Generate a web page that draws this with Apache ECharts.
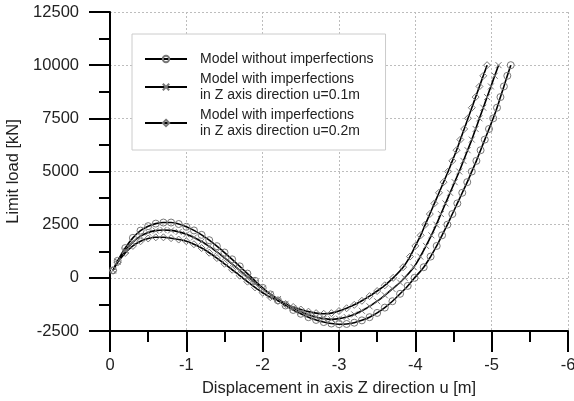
<!DOCTYPE html>
<html><head><meta charset="utf-8">
<script src="https://cdn.jsdelivr.net/npm/echarts@6/dist/echarts.min.js"></script>
<style>html,body{margin:0;padding:0;background:#fff;overflow:hidden;width:574px;height:401px}#c{position:absolute;left:0;top:0;width:574px;height:401px}</style>
</head><body><div id="c"></div>
<script>
// Series names (legend)
const seriesNames = [
  'Model without imperfections',
  'Model with imperfections\nin Z axis direction u=0.1m',
  'Model with imperfections\nin Z axis direction u=0.2m'
];
// Model without imperfections
const xNoImp = [-0.04,-0.1,-0.2,-0.3,-0.4,-0.5,-0.6,-0.7,-0.8,-0.9,-1.0,-1.1,-1.2,-1.3,-1.4,-1.5,-1.6,-1.7,-1.8,-1.9,-2.0,-2.1,-2.2,-2.3,-2.4,-2.5,-2.6,-2.7,-2.8,-2.9,-3.0,-3.1,-3.2,-3.3,-3.4,-3.5,-3.6,-3.7,-3.8,-3.9,
  -3.99,-4.11,-4.2,-4.28,-4.35,-4.42,-4.485,-4.55,-4.615,-4.68,-4.74,-4.8,-4.855,-4.91,-4.965,-5.02,-5.07,-5.115,-5.16,-5.205,-5.25];
const yNoImp = [350,800,1400,1880,2220,2430,2550,2600,2600,2530,2400,2230,2020,1770,1490,1190,870,540,200,-140,-470,-780,-1060,-1300,-1510,-1690,-1850,-1980,-2080,-2150,-2180,-2170,-2110,-2000,-1850,-1650,-1400,-1100,-750,-380,
  0,500,1000,1500,2000,2500,3000,3500,4000,4500,5000,5500,6000,6500,7000,7500,8000,8500,9000,9500,10000];
// Model with imperfections u=0.1m
const xImp01 = [-0.04,-0.1,-0.2,-0.3,-0.4,-0.5,-0.6,-0.7,-0.8,-0.9,-1.0,-1.1,-1.2,-1.3,-1.4,-1.5,-1.6,-1.7,-1.8,-1.9,-2.0,-2.1,-2.2,-2.3,-2.4,-2.5,-2.6,-2.7,-2.8,-2.9,-3.0,-3.1,-3.2,-3.3,-3.4,-3.5,-3.6,-3.7,-3.8,
  -3.86,-3.98,-4.065,-4.14,-4.21,-4.275,-4.335,-4.395,-4.455,-4.515,-4.575,-4.63,-4.685,-4.74,-4.79,-4.84,-4.89,-4.94,-4.99,-5.04,-5.09];
const yImp01 = [350,760,1280,1680,1960,2130,2220,2250,2230,2160,2050,1900,1710,1480,1220,940,650,350,60,-230,-510,-760,-1000,-1220,-1420,-1590,-1740,-1850,-1920,-1950,-1920,-1840,-1720,-1550,-1340,-1100,-820,-520,-220,
  0,500,1000,1500,2000,2500,3000,3500,4000,4500,5000,5500,6000,6500,7000,7500,8000,8500,9000,9500,10000];
// Model with imperfections u=0.2m
const xImp02 = [-0.04,-0.1,-0.2,-0.3,-0.4,-0.5,-0.6,-0.7,-0.8,-0.9,-1.0,-1.1,-1.2,-1.3,-1.4,-1.5,-1.6,-1.7,-1.8,-1.9,-2.0,-2.1,-2.2,-2.3,-2.4,-2.5,-2.6,-2.7,-2.8,-2.9,-3.0,-3.1,-3.2,-3.3,-3.4,-3.5,-3.6,
  -3.71,-3.84,-3.93,-4.0,-4.07,-4.13,-4.19,-4.25,-4.31,-4.37,-4.43,-4.485,-4.54,-4.59,-4.64,-4.69,-4.74,-4.79,-4.84,-4.89,-4.94];
const yImp02 = [350,720,1170,1500,1720,1850,1905,1905,1865,1800,1720,1580,1400,1180,930,660,380,100,-180,-450,-700,-910,-1080,-1230,-1370,-1490,-1590,-1660,-1690,-1660,-1560,-1430,-1270,-1080,-860,-620,-350,
  0,500,1000,1500,2000,2500,3000,3500,4000,4500,5000,5500,6000,6500,7000,7500,8000,8500,9000,9500,10000];

const xs = [xNoImp, xImp01, xImp02];
const ys = [yNoImp, yImp01, yImp02];
const symbols = ['circle', 'path://M0,0L10,10M10,0L0,10', 'diamond'];

const font = "'Liberation Sans', Arial, sans-serif";
const chart = echarts.init(document.getElementById('c'), null, {renderer: 'canvas', width: 574, height: 401});
const series = seriesNames.map((n, i) => ({
  name: n,
  type: 'line',
  smooth: 0.3,
  data: xs[i].map((x, k) => [x, ys[i][k]]),
  symbol: symbols[i],
  symbolSize: i === 1 ? 6 : 7,
  showAllSymbol: true,
  lineStyle: {color: '#000', width: 1.6},
  itemStyle: {color: 'rgba(0,0,0,0)', borderColor: '#777', borderWidth: 1},
  emphasis: {disabled: true},
  z: 3
}));

chart.setOption({
  animation: false,
  backgroundColor: '#fff',
  grid: {left: 110, right: 6, top: 12, bottom: 70, containLabel: false, outerBoundsMode: 'none'},
  legend: {
    show: true,
    orient: 'vertical',
    left: 132, top: 34,
    backgroundColor: '#fff',
    borderColor: '#cccccc',
    borderWidth: 1,
    padding: [17, 12, 11, 12],
    itemGap: 4,
    itemWidth: 42,
    itemHeight: 8,
    data: seriesNames,
    textStyle: {fontFamily: font, fontSize: 14, color: '#222', lineHeight: 16, padding: [0, 0, 0, 8]}
  },
  xAxis: {
    type: 'value',
    inverse: true,
    min: -6, max: 0, interval: 1,
    name: 'Displacement in axis Z direction u [m]',
    nameLocation: 'middle',
    nameGap: 49,
    nameTextStyle: {fontFamily: font, fontSize: 16.5, color: '#222'},
    axisLine: {onZero: false, lineStyle: {color: '#000', width: 2}},
    axisTick: {show: true, inside: false, length: 21, lineStyle: {color: '#000', width: 2}},
    minorTick: {show: true, splitNumber: 2, length: 11, lineStyle: {color: '#000', width: 2}},
    axisLabel: {fontFamily: font, fontSize: 16.5, color: '#222', margin: 26, formatter: v => String(v)},
    splitLine: {show: true, lineStyle: {color: '#bdbdbd', type: [2, 2], width: 1}}
  },
  yAxis: {
    type: 'value',
    min: -2500, max: 12500, interval: 2500,
    name: 'Limit load [kN]',
    nameLocation: 'middle',
    nameGap: 84,
    nameTextStyle: {fontFamily: font, fontSize: 16.5, color: '#222'},
    axisLine: {show: true, onZero: false, lineStyle: {color: '#000', width: 2}},
    axisTick: {show: true, inside: false, length: 21, lineStyle: {color: '#000', width: 2}},
    minorTick: {show: true, splitNumber: 2, length: 11, lineStyle: {color: '#000', width: 2}},
    axisLabel: {fontFamily: font, fontSize: 16.5, color: '#222', margin: 31, formatter: v => String(v)},
    splitLine: {show: true, lineStyle: {color: '#bdbdbd', type: [2, 2], width: 1}}
  },
  series: series
});
</script>
</body></html>
